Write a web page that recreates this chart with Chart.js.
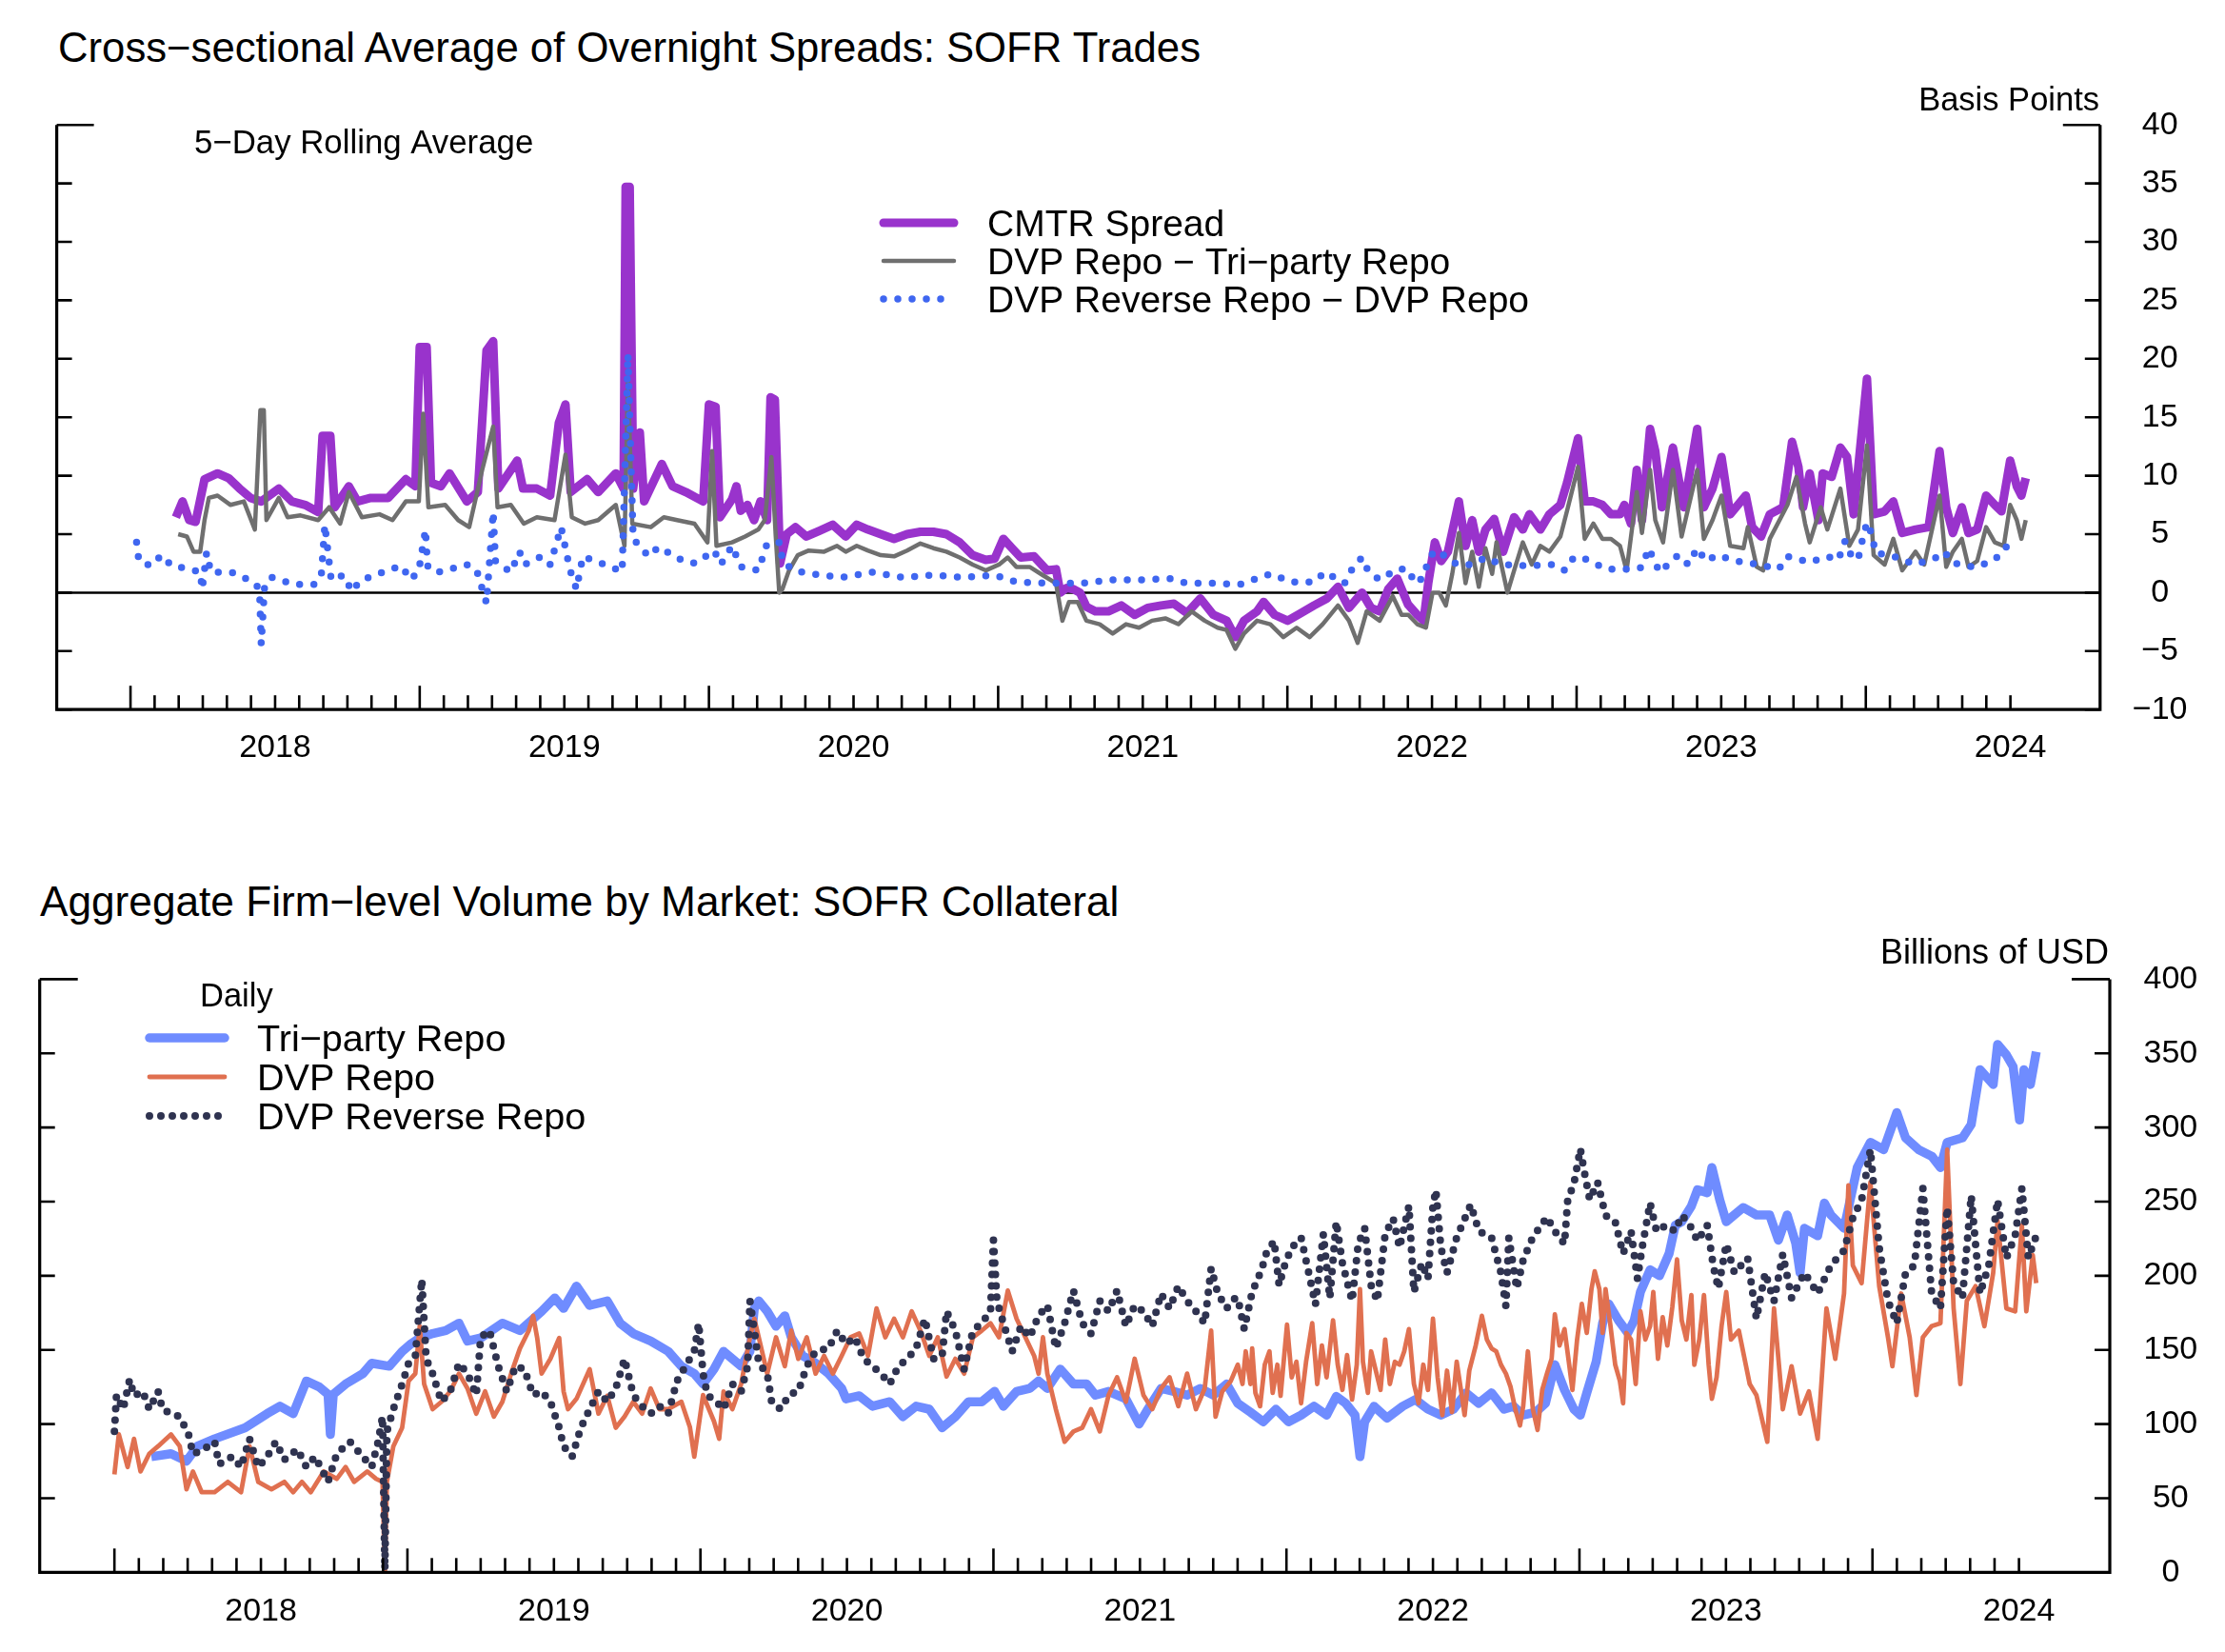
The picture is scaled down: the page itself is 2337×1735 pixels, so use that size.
<!DOCTYPE html>
<html>
<head>
<meta charset="utf-8">
<script src="https://cdn.jsdelivr.net/npm/chart.js"></script>
<style>
  body { margin: 0; background: #fff; width: 2337px; height: 1735px; position: relative; overflow: hidden; }
  .title { position: absolute; font-family: 'Liberation Sans', Arial, sans-serif; line-height: 44px; color: #000; white-space: nowrap; }
  canvas { position: absolute; left: 0; }
</style>
</head>
<body>
<div class="title" style="left:61px; top:28px; font-size:43.7px">Cross−sectional Average of Overnight Spreads: SOFR Trades</div>
<div class="title" style="left:42px; top:925px; font-size:44.2px">Aggregate Firm−level Volume by Market: SOFR Collateral</div>
<canvas id="spreadChart" width="2337" height="870" style="top:0; width:2337px; height:870px"></canvas>
<canvas id="volumeChart" width="2337" height="865" style="top:870px; width:2337px; height:865px"></canvas>
<script>
// axis labels
const yearLabels = ["2018", "2019", "2020", "2021", "2022", "2023", "2024"];
const spreadTicks = [-10, -5, 0, 5, 10, 15, 20, 25, 30, 35, 40];
const volumeTicks = [0, 50, 100, 150, 200, 250, 300, 350, 400];

// --- top panel: 5-day rolling averages, basis points (x = fractional year)
const cmtrYears = [2018.157,2018.180,2018.203,2018.225,2018.256,2018.301,2018.339,2018.377,2018.415,2018.452,2018.513,2018.558,2018.604,2018.649,2018.664,2018.691,2018.706,2018.755,2018.785,2018.831,2018.891,2018.952,2018.985,2019.000,2019.024,2019.039,2019.073,2019.103,2019.163,2019.201,2019.231,2019.254,2019.272,2019.337,2019.357,2019.405,2019.451,2019.481,2019.504,2019.522,2019.579,2019.617,2019.678,2019.705,2019.712,2019.726,2019.738,2019.761,2019.776,2019.837,2019.874,2019.920,2019.980,2020.000,2020.023,2020.038,
  2020.080,2020.095,2020.110,2020.133,2020.156,2020.178,2020.201,2020.213,2020.228,2020.246,2020.269,2020.299,2020.337,2020.383,2020.428,2020.473,2020.511,2020.549,2020.594,2020.640,2020.685,2020.731,2020.776,2020.821,2020.867,2020.912,2020.957,2020.988,2021.018,2021.048,2021.078,2021.124,2021.169,2021.200,2021.215,2021.237,2021.260,2021.283,2021.305,2021.336,2021.381,2021.426,2021.472,2021.517,2021.563,2021.608,2021.653,2021.699,2021.744,2021.790,2021.820,2021.850,2021.895,2021.918,2021.956,2022.001,2022.047,2022.092,2022.137,2022.175,2022.213,2022.258,2022.289,2022.319,2022.349,2022.380,2022.417,
  2022.449,2022.471,2022.487,2022.510,2022.532,2022.555,2022.593,2022.616,2022.639,2022.662,2022.685,2022.715,2022.746,2022.784,2022.814,2022.837,2022.875,2022.906,2022.944,2022.967,2023.005,2023.028,2023.058,2023.089,2023.119,2023.150,2023.165,2023.188,2023.208,2023.226,2023.254,2023.272,2023.295,2023.333,2023.371,2023.417,2023.440,2023.470,2023.501,2023.531,2023.585,2023.607,2023.638,2023.668,2023.714,2023.745,2023.767,2023.783,2023.806,2023.836,2023.851,2023.882,2023.912,2023.935,2023.958,2024.004,2024.027,2024.065,2024.095,2024.126,2024.172,2024.217,2024.255,2024.278,2024.301,2024.332,2024.355,2024.385,2024.416,2024.446,2024.469,2024.499,2024.522,2024.538,2024.553];
const cmtrSpread = [6.45,7.8,6.2,6.05,9.7,10.2,9.8,8.9,8.1,7.8,8.9,7.8,7.5,6.9,13.4,13.4,7.3,9.1,7.8,8.1,8.1,9.7,9.1,21.0,21.0,9.4,9.1,10.2,7.8,8.6,20.7,21.5,8.9,11.3,8.9,8.9,8.3,14.5,16.1,8.6,9.7,8.6,10.2,8.9,34.7,34.7,8.9,13.7,7.8,11.0,9.1,8.6,7.8,16.1,15.9,6.45,
  8.0,9.1,7.0,7.5,6.2,7.8,6.2,16.7,16.5,2.5,5.0,5.6,4.8,5.3,5.8,4.8,5.8,5.4,5.0,4.6,5.0,5.2,5.2,5.0,4.3,3.2,2.8,2.9,4.6,3.8,3.0,3.1,1.9,2.0,0.0,0.4,0.3,0.0,-1.2,-1.6,-1.6,-1.1,-1.9,-1.3,-1.1,-0.95,-1.75,-0.5,-1.9,-2.4,-3.8,-2.4,-1.6,-0.8,-1.9,-2.4,-1.75,-1.1,-0.5,0.5,-1.3,0.0,-1.3,-1.6,0.3,1.2,-1.0,
  -1.9,-2.4,0.8,4.3,2.7,3.5,7.8,4.0,6.2,3.5,5.4,6.3,3.5,6.45,5.4,6.7,5.4,6.7,7.5,9.4,13.2,7.8,7.8,7.5,6.7,6.7,7.5,5.9,10.5,6.2,14.0,12.1,7.3,12.4,7.3,14.0,7.3,8.9,11.6,6.7,8.3,5.6,4.8,6.7,7.3,12.9,10.75,7.3,10.2,6.2,10.2,9.9,12.4,11.6,6.7,18.3,6.7,6.95,7.8,5.1,5.4,5.6,12.1,7.3,5.1,7.3,5.1,5.4,8.3,7.5,6.95,11.3,9.1,8.3,9.8];

const dvpTriYears = [2018.165,2018.195,2018.218,2018.241,2018.256,2018.271,2018.301,2018.346,2018.392,2018.430,2018.449,2018.461,2018.470,2018.513,2018.543,2018.588,2018.649,2018.687,2018.725,2018.755,2018.800,2018.861,2018.906,2018.952,2018.997,2019.012,2019.030,2019.088,2019.133,2019.171,2019.216,2019.254,2019.269,2019.315,2019.360,2019.405,2019.466,2019.504,2019.526,2019.572,2019.617,2019.678,2019.708,2019.720,2019.735,2019.799,2019.844,2019.890,2019.950,2019.995,2020.011,2020.026,
  2020.080,2020.125,2020.171,2020.193,2020.216,2020.231,2020.243,2020.254,2020.277,2020.307,2020.345,2020.398,2020.443,2020.473,2020.511,2020.549,2020.594,2020.640,2020.685,2020.731,2020.776,2020.821,2020.867,2020.912,2020.957,2021.003,2021.033,2021.063,2021.109,2021.154,2021.200,2021.222,2021.245,2021.275,2021.305,2021.351,2021.396,2021.442,2021.487,2021.532,2021.578,2021.623,2021.669,2021.714,2021.759,2021.790,2021.820,2021.850,2021.895,2021.941,2021.986,2022.032,2022.077,2022.122,2022.175,2022.213,2022.243,2022.274,2022.319,2022.364,2022.395,
  2022.418,2022.449,2022.479,2022.502,2022.525,2022.548,2022.570,2022.593,2022.616,2022.639,2022.662,2022.685,2022.708,2022.723,2022.761,2022.784,2022.814,2022.845,2022.875,2022.906,2022.944,2022.967,2023.005,2023.028,2023.058,2023.089,2023.119,2023.150,2023.173,2023.208,2023.226,2023.254,2023.272,2023.299,2023.333,2023.363,2023.417,2023.440,2023.470,2023.501,2023.531,2023.577,2023.592,2023.623,2023.645,2023.668,2023.729,2023.760,2023.790,2023.806,2023.844,2023.867,2023.912,2023.943,2023.973,2024.004,2024.027,2024.065,2024.095,2024.126,2024.172,2024.202,2024.255,2024.278,2024.301,2024.332,2024.355,2024.385,2024.416,2024.446,2024.477,2024.499,2024.522,2024.538,2024.553];
const dvpTriSpread = [5.0,4.8,3.5,3.5,6.2,8.1,8.3,7.5,7.8,5.4,15.6,15.6,6.2,8.1,6.45,6.6,6.2,7.3,5.9,8.6,6.45,6.7,6.2,7.8,7.8,15.3,7.3,7.5,6.2,5.6,10.5,14.2,7.3,7.5,5.9,6.45,6.2,11.8,6.45,5.9,6.2,7.5,4.0,18.3,5.9,5.6,6.45,6.2,5.9,4.3,12.1,4.0,
  4.3,4.8,5.4,6.2,11.6,4.8,0,0.3,1.9,3.2,3.6,3.5,4.0,3.5,4.0,3.6,3.2,3.1,3.6,4.2,3.8,3.5,3.0,2.4,1.9,2.4,3.0,2.2,2.2,1.5,0.8,-2.4,-0.8,-0.8,-2.4,-2.7,-3.5,-2.7,-3.0,-2.4,-2.2,-2.7,-1.6,-2.4,-3.0,-3.2,-4.8,-3.5,-2.4,-2.7,-3.8,-3.0,-3.8,-2.7,-1.1,-2.4,-4.3,-1.6,-2.4,-0.3,-1.9,
  -1.9,-2.7,-3.0,0,0,-1.1,1.6,5.1,0.8,3.5,0.5,3.8,1.6,4.3,0,1.9,4.3,2.4,4.0,3.5,4.8,7.0,10.75,4.6,5.9,4.6,4.6,4.0,1.9,8.6,5.1,10.5,6.2,4.3,10.5,4.8,10.5,4.6,6.2,8.3,4.0,3.8,5.6,2.2,1.9,4.6,7.5,9.9,5.9,4.3,7.3,5.4,8.9,4.0,5.4,12.6,3.2,2.4,4.6,1.9,3.5,2.4,8.3,2.2,3.5,4.6,2.2,2.7,5.6,4.3,4.0,7.5,6.2,4.6,6.2];

const revDvpYears = [2018.021,2018.029,2018.071,2018.107,2018.142,2018.207,2018.241,2018.248,2018.263,2018.278,2018.354,2018.425,2018.446,2018.452,2018.464,2018.490,2018.566,2018.637,2018.660,2018.672,2018.694,2018.737,2018.766,2018.793,2018.868,2018.936,2018.970,2018.997,2019.020,2019.027,2019.057,2019.163,2019.197,2019.231,2019.254,2019.262,2019.315,2019.345,2019.363,2019.421,2019.451,2019.489,2019.519,2019.542,2019.564,2019.640,2019.700,2019.720,2019.738,2019.791,2019.826,2019.912,2019.953,2020.018,2020.041,
  2020.080,2020.110,2020.171,2020.201,2020.246,2020.254,2020.292,2020.352,2020.458,2020.564,2020.670,2020.776,2020.882,2020.988,2021.063,2021.169,2021.290,2021.396,2021.502,2021.593,2021.653,2021.744,2021.835,2021.941,2022.017,2022.092,2022.130,2022.198,2022.228,2022.258,2022.281,2022.319,2022.380,
  2022.418,2022.441,2022.471,2022.487,2022.510,2022.548,2022.586,2022.639,2022.685,2022.738,2022.822,2022.921,2022.959,2022.990,2023.020,2023.104,2023.188,2023.226,2023.249,2023.287,2023.351,2023.386,2023.417,2023.447,2023.486,2023.554,2023.630,2023.699,2023.729,2023.806,2023.867,2023.905,2023.928,2023.943,2023.973,2023.989,2024.004,2024.019,2024.034,2024.095,2024.172,2024.240,2024.271,2024.301,2024.377,2024.446,2024.484,2024.522];
const revDvpSpread = [4.3,2.7,2.3,3.2,2.3,2.0,1.75,0.3,3.4,1.75,1.7,0.9,0.3,-4.4,0.7,1.3,0.7,0.7,1.6,5.8,1.1,1.5,0.1,1.0,1.7,2.3,1.1,1.9,5.4,2.3,1.7,2.4,1.9,-0.9,6.9,2.7,1.75,3.5,2.4,3.1,2.4,5.6,2.0,0.3,3.1,2.4,1.8,20.4,4.6,3.1,3.9,2.7,2.5,3.6,2.4,
  4.0,2.2,1.9,4.2,4.3,2.7,1.9,1.6,1.3,1.75,1.3,1.5,1.3,1.5,0.9,0.8,0.8,1.1,1.1,1.2,0.8,0.8,0.7,1.6,0.9,0.9,1.75,0.8,2.2,3.0,1.75,1.1,2.0,
  2.0,0.8,1.3,2.8,3.6,3.1,2.4,2.4,3.0,2.4,2.3,2.4,1.9,3.0,3.0,2.0,2.0,2.15,3.8,1.75,3.2,2.4,3.8,2.7,3.2,2.7,2.4,2.0,3.1,2.6,3.1,2.8,4.4,3.4,2.8,4.6,6.0,5.1,3.4,3.1,2.4,2.96,3.5,2.55,2.15,2.8,3.9,3.9];

// --- bottom panel: daily volumes, billions of USD
const triYears = [2018.126,2018.193,2018.246,2018.283,2018.342,2018.446,2018.521,2018.565,2018.610,2018.655,2018.699,2018.729,2018.737,2018.747,2018.789,2018.848,2018.878,2018.938,2018.982,2019.012,2019.042,2019.086,2019.131,2019.176,2019.205,2019.250,2019.324,2019.384,2019.458,2019.503,2019.533,2019.577,2019.622,2019.682,2019.726,2019.771,2019.830,2019.890,2019.935,2019.979,2020.009,2020.046,
  2020.079,2020.109,2020.139,2020.169,2020.184,2020.199,2020.228,2020.258,2020.288,2020.310,2020.349,2020.393,2020.437,2020.482,2020.497,2020.542,2020.587,2020.646,2020.691,2020.736,2020.781,2020.825,2020.870,2020.915,2020.960,2021.004,2021.034,2021.079,2021.124,2021.154,2021.184,2021.228,2021.273,2021.318,2021.348,2021.393,2021.452,2021.497,2021.527,2021.572,2021.616,2021.661,2021.706,2021.751,2021.796,
  2021.834,2021.877,2021.921,2021.964,2022.007,2022.050,2022.094,2022.137,2022.170,2022.202,2022.234,2022.251,2022.267,2022.299,2022.343,2022.397,2022.440,2022.483,2022.527,2022.570,2022.613,2022.656,2022.700,2022.743,2022.775,2022.808,2022.851,2022.884,2022.916,2022.949,2022.981,2023.003,2023.025,2023.057,2023.079,2023.100,2023.133,2023.165,2023.187,2023.208,2023.241,2023.273,2023.306,2023.327,2023.349,2023.382,2023.403,2023.436,2023.452,2023.479,2023.501,
  2023.559,2023.604,2023.649,2023.679,2023.709,2023.738,2023.753,2023.768,2023.813,2023.836,2023.858,2023.903,2023.948,2023.993,2024.038,2024.083,2024.113,2024.158,2024.203,2024.232,2024.255,2024.307,2024.337,2024.367,2024.412,2024.427,2024.457,2024.480,2024.502,2024.517,2024.539,2024.559];
const triVolume = [78,80,75,85,90,97.5,107,112,107,129,125,120,93,120,127,134,141,139,149,154,158,161,163,168,156,158,168,163,176,185,178,193,180,183,168,161,156,149,139,134,127,137,
  149,144,139,149,178,183,176,166,173,158.5,146,141,134,124,117,119,112,115,105,112,110,97.5,105,115,115,122,112,122,124,129,124,137,127,127,119.5,122,117,100,110,124,122,119.5,124,119.5,127,
  114,108,101.5,110,101.5,106,112,106,118.6,114,106,78,101.5,112,104,112,116.5,110,106,110,121,114,121,110,112,106,108,114,140,123,110,106,121,142,168,181,170,161.5,170,189,204,200,215,234,236.5,247,258,256,273,251,236.5,
  246,241,241,224,241,222,202,232,227,249,241,232,273,290,285,310,293,285,280.5,273,290,293,302,339,329,356,349,341,305,339,329,351];

const dvpYears = [2018.000,2018.015,2018.045,2018.067,2018.089,2018.119,2018.149,2018.193,2018.223,2018.246,2018.268,2018.298,2018.342,2018.387,2018.432,2018.461,2018.491,2018.536,2018.580,2018.610,2018.640,2018.670,2018.714,2018.759,2018.789,2018.818,2018.863,2018.893,2018.915,2018.923,2018.930,2018.952,2018.982,2019.004,2019.027,2019.042,2019.057,2019.086,2019.116,2019.146,2019.176,2019.205,2019.235,2019.265,2019.295,2019.324,2019.354,2019.384,2019.414,2019.429,2019.443,2019.458,2019.488,2019.518,2019.533,2019.548,2019.577,2019.622,2019.652,2019.682,2019.711,2019.741,2019.771,2019.801,2019.830,2019.860,2019.890,2019.935,2019.964,2019.979,2020.009,2020.046,
  2020.064,2020.079,2020.109,2020.139,2020.169,2020.184,2020.199,2020.228,2020.258,2020.288,2020.310,2020.334,2020.363,2020.393,2020.422,2020.452,2020.482,2020.512,2020.542,2020.572,2020.601,2020.631,2020.661,2020.691,2020.721,2020.751,2020.781,2020.810,2020.840,2020.870,2020.900,2020.930,2020.960,2020.990,2021.019,2021.049,2021.079,2021.109,2021.139,2021.154,2021.169,2021.184,2021.213,2021.243,2021.273,2021.303,2021.333,2021.363,2021.393,2021.422,2021.452,2021.482,2021.512,2021.542,2021.572,2021.601,2021.631,2021.661,2021.691,2021.721,2021.743,2021.758,2021.781,2021.810,
  2021.834,2021.850,2021.861,2021.877,2021.883,2021.894,2021.910,2021.926,2021.942,2021.953,2021.969,2021.980,
  2022.002,2022.018,2022.034,2022.050,2022.067,2022.088,2022.105,2022.121,2022.137,2022.159,2022.175,2022.191,2022.207,2022.224,2022.240,2022.251,2022.261,2022.278,2022.289,2022.305,2022.321,2022.337,2022.353,2022.370,2022.386,2022.402,2022.418,2022.435,2022.451,2022.467,2022.483,2022.500,2022.516,2022.532,2022.548,2022.565,2022.581,2022.597,2022.608,2022.624,2022.646,2022.667,2022.684,2022.700,2022.716,2022.732,2022.749,2022.765,2022.781,2022.797,2022.808,2022.824,2022.841,2022.857,2022.873,2022.889,2022.905,2022.916,2022.932,2022.949,2022.965,2022.976,2022.992,
  2023.008,2023.025,2023.041,2023.052,2023.068,2023.079,2023.089,2023.106,2023.122,2023.138,2023.149,2023.160,2023.176,2023.192,2023.208,2023.225,2023.241,2023.252,2023.268,2023.284,2023.300,2023.317,2023.333,2023.349,2023.365,2023.382,2023.392,2023.409,2023.425,2023.441,2023.452,2023.468,2023.485,2023.501,2023.517,
  2023.544,2023.581,2023.604,2023.641,2023.664,2023.694,2023.724,2023.753,2023.783,2023.813,2023.843,2023.873,2023.903,2023.918,2023.933,2023.963,2023.993,2024.023,2024.053,2024.068,2024.098,2024.127,2024.150,2024.172,2024.202,2024.232,2024.255,2024.277,2024.300,2024.322,2024.352,2024.382,2024.412,2024.427,2024.457,2024.487,2024.510,2024.525,2024.547,2024.559];
const dvpVolume = [66,93,71,90,68,80,85,93,85,56,68,54,54,61,54,85,61,56,61,54,61,54,68,63,71,61,68,63,61,0,61,85,97.5,129,134,166,127,110,115,122,134,124,107,122,105,115,134,151,163,173,158,134,144,158,122,110,117,137,107,119,97.5,105,115,107,124,110,110,115,98,78,119.5,102,
  90,122,110,127,158.5,171,158.5,134,158.5,139,163,144,158.5,134,146,134,146,158.5,161,146,178,158.5,171,158.5,176,163,146,158.5,132,144,134,158.5,163,168,158.5,190,171,158.5,146,134,158.5,134,110,88,95,97.5,110,95,119.5,131.5,115,144,119.5,110,124,131.5,112,134,110,124,163,105,122,129,
  140,127,149,127,151,121,112,140,149,121,140,119,
  167,131.5,142,114,142,168,127,153,131.5,170,140,123,146.5,116.5,140,191,142,121,149,136,123,157,127,142,140,149,164,127,114,140,123,171,131.5,106,136,108,142,121,106,136,153,173,157,151,149,140,134,125,110,99,112,149,110,96,123,134,144,174,153,164,140,123,157,
  181,161.5,191,203,191,161.5,191,166,140,129,114,161.5,157,127,176,157,166,189,144,172,153,179,211,170,157,187,140,157,187,140,117,131.5,166,189,157,
  163,127,119.5,88,178,110,139,107,122,90,178,144,188,261,207,195,263,193,158.5,139,188,158.5,119.5,158.5,166,168,285,178,127,183,193,166,202,237,178,176,234,176,214,195];

const revYears = [2018.000,2018.007,2018.030,2018.052,2018.067,2018.097,2018.119,2018.149,2018.164,2018.193,2018.223,2018.253,2018.268,2018.298,2018.342,2018.357,2018.402,2018.432,2018.461,2018.491,2018.521,2018.551,2018.580,2018.625,2018.655,2018.685,2018.729,2018.759,2018.804,2018.848,2018.878,2018.900,2018.915,2018.923,2018.930,2018.952,2018.982,2019.004,2019.027,2019.049,2019.064,2019.086,2019.116,2019.146,2019.176,2019.205,2019.235,2019.250,2019.280,2019.310,2019.339,2019.369,2019.399,2019.429,2019.458,2019.488,2019.518,2019.533,2019.562,2019.592,2019.622,2019.652,2019.682,2019.711,2019.741,2019.771,2019.801,2019.830,2019.860,2019.890,2019.920,2019.949,2019.979,2019.994,2020.009,2020.024,2020.054,
  2020.079,2020.109,2020.139,2020.161,2020.169,2020.184,2020.199,2020.228,2020.243,2020.273,2020.304,2020.334,2020.363,2020.393,2020.437,2020.467,2020.497,2020.527,2020.557,2020.587,2020.616,2020.646,2020.676,2020.706,2020.736,2020.766,2020.796,2020.825,2020.840,2020.870,2020.900,2020.930,2020.960,2020.990,2021.000,2021.012,2021.034,2021.064,2021.094,2021.124,2021.154,2021.184,2021.213,2021.243,2021.273,2021.303,2021.333,2021.363,2021.393,2021.422,2021.452,2021.482,2021.512,2021.542,2021.572,2021.601,2021.631,2021.661,2021.691,2021.721,2021.743,2021.766,2021.796,2021.825,
  2021.834,2021.856,2021.883,2021.915,2021.931,2021.958,2021.975,2021.996,
  2022.018,2022.050,2022.083,2022.099,2022.126,2022.148,2022.170,2022.191,2022.224,2022.245,2022.267,2022.289,2022.310,2022.337,2022.364,2022.386,2022.418,2022.435,2022.462,2022.483,2022.500,2022.510,2022.527,2022.548,2022.581,2022.629,2022.657,2022.700,2022.732,2022.749,2022.759,2022.786,2022.808,2022.840,2022.889,2022.916,2022.949,2022.960,2022.981,
  2023.003,2023.014,2023.035,2023.062,2023.089,2023.122,2023.149,2023.176,2023.198,2023.214,2023.241,2023.263,2023.295,2023.327,2023.349,2023.371,2023.403,2023.436,2023.457,2023.474,2023.501,
  2023.529,2023.574,2023.604,2023.634,2023.664,2023.694,2023.724,2023.768,2023.813,2023.858,2023.903,2023.933,2023.963,2023.993,2024.023,2024.053,2024.083,2024.113,2024.143,2024.172,2024.202,2024.232,2024.255,2024.277,2024.307,2024.337,2024.367,2024.397,2024.427,2024.457,2024.487,2024.510,2024.532,2024.559];
const revVolume = [95,119.5,110,130,119,122,110,122,110,107,105,93,80,82,88,73,78,71,90,71,78,88,76,83,71,78,61,80,88,78,71,88,105,2,95,110,127,141,146,197.5,144,134,115,122,141,134,119.5,158.5,163,139,122,139,137,119.5,122,115,97.5,85,78,97.5,110,122,115,124,144,119.5,112,107,112,107,129,139,149,168,134,119.5,115,
  110,127,122,139,183,163,141,134,115,110,120,122,139,149,151,163,154,158.5,144,139,134,127,139,144,151,171,144,146,176,163,137,163,168,176,224,183,168,149,166,158.5,173,180,151,168,190,168,161,183,176,190,166,180,176,166,188,178,193,183,176,168,205,188,178,185,
  185,164,189,204,215,223.5,193.5,208.5,
  219,225.7,195.7,180.7,228,185,236.4,208.5,183,221.4,232,193.5,183,228,238.5,219,247,189,208.5,198,247,257.8,219,202,225.7,248,230,225.7,202,179.6,225.7,191.4,210.7,225.7,239.6,230,221.4,251.4,262,
  285.6,272.8,251.4,263,240.7,236.4,215,230,198,219,249,230,234,230,240.7,236.4,223.5,234,206.4,191.4,221.4,
  202,212,171,202,183,214.5,185,202,188,207,217,239,251,285,219,183,168,202,207,259,188,178,246,195,185,254,188,207,251,212,227,259,212,227];

const FONT = "'Liberation Sans', Arial, sans-serif";

// monthly tick marks, Jan 2018 .. Jul 2024
const monthTicks = [];
for (let k = 0; k <= 78; k++) monthTicks.push(2018 + k / 12);

function pts(xs, ys) {
  return xs.map((x, i) => ({ x: x, y: ys[i] }));
}

function minus(v) {
  return v < 0 ? "\u2212" + Math.abs(v) : String(v);
}

// box, inward ticks and zero line
const framePlugin = {
  id: "frame",
  beforeDatasetsDraw(chart, args, opts) {
    if (!opts.zeroLine) return;
    const { ctx, chartArea: a, scales: { y } } = chart;
    const yy = y.getPixelForValue(0);
    ctx.save();
    ctx.strokeStyle = "#000";
    ctx.lineWidth = 2.5;
    ctx.beginPath();
    ctx.moveTo(a.left, yy);
    ctx.lineTo(a.right, yy);
    ctx.stroke();
    ctx.restore();
  },
  afterDatasetsDraw(chart, args, opts) {
    const { ctx, chartArea: a, scales: { x, y } } = chart;
    ctx.save();
    ctx.strokeStyle = "#000";
    ctx.lineWidth = 3.2;
    ctx.beginPath();
    ctx.moveTo(a.left, a.top);
    ctx.lineTo(a.left, a.bottom);
    ctx.lineTo(a.right, a.bottom);
    ctx.lineTo(a.right, a.top);
    ctx.stroke();

    ctx.lineWidth = 2.6;
    y.ticks.forEach(t => {
      const py = y.getPixelForValue(t.value);
      const len = t.value === y.max ? opts.topTick : opts.yTick;
      ctx.beginPath();
      ctx.moveTo(a.left, py);
      ctx.lineTo(a.left + len, py);
      ctx.moveTo(a.right, py);
      ctx.lineTo(a.right - len, py);
      ctx.stroke();
    });
    x.ticks.forEach((t, i) => {
      const px = x.getPixelForValue(t.value);
      const len = i % 12 === 0 ? opts.majorTick : opts.minorTick;
      ctx.beginPath();
      ctx.moveTo(px, a.bottom);
      ctx.lineTo(px, a.bottom - len);
      ctx.stroke();
    });
    ctx.restore();
  }
};

// notes and legend drawn from the datasets
const notesPlugin = {
  id: "notes",
  afterDraw(chart, args, opts) {
    const ctx = chart.ctx;
    ctx.save();
    ctx.fillStyle = "#000";
    ctx.textBaseline = "alphabetic";
    opts.texts.forEach(t => {
      ctx.font = t.size + "px " + FONT;
      ctx.textAlign = t.align;
      ctx.fillText(t.text, t.x, t.y);
    });
    const L = opts.legend;
    chart.data.datasets.forEach((ds, i) => {
      const base = L.y0 + i * L.dy;
      const ly = base - L.lift;
      ctx.save();
      ctx.strokeStyle = ds.borderColor;
      ctx.lineWidth = ds.borderWidth;
      ctx.lineCap = "round";
      ctx.setLineDash(ds.borderDash || []);
      ctx.beginPath();
      ctx.moveTo(L.x1, ly);
      ctx.lineTo(L.x2, ly);
      ctx.stroke();
      ctx.restore();
      ctx.font = L.size + "px " + FONT;
      ctx.textAlign = "left";
      ctx.fillText(ds.label, L.tx, base);
    });
    ctx.restore();
  }
};

function xAxis(height, pad) {
  return {
    type: "linear",
    min: 2017.745,
    max: 2024.81,
    afterBuildTicks: s => { s.ticks = monthTicks.map(v => ({ value: v })); },
    afterFit: s => { s.height = height; },
    grid: { display: false, drawTicks: false },
    border: { display: false },
    ticks: {
      autoSkip: false, maxRotation: 0, minRotation: 0, padding: pad,
      color: "#000", font: { family: FONT, size: 34 },
      callback: (v, i) => (i % 12 === 6 ? yearLabels[Math.floor(i / 12)] : "")
    }
  };
}

function yAxis(min, max, tickList, width, pad) {
  return {
    type: "linear",
    position: "right",
    min: min,
    max: max,
    afterBuildTicks: s => { s.ticks = tickList.map(v => ({ value: v })); },
    afterFit: s => { s.width = width; },
    grid: { display: false, drawTicks: false },
    border: { display: false },
    ticks: {
      padding: pad, crossAlign: "center", color: "#000",
      font: { family: FONT, size: 34 },
      callback: v => minus(v)
    }
  };
}

const lineBase = { pointRadius: 0, tension: 0, borderJoinStyle: "round", fill: false };

new Chart(document.getElementById("spreadChart"), {
  type: "line",
  data: {
    datasets: [
      Object.assign({ label: "CMTR Spread", data: pts(cmtrYears, cmtrSpread), borderColor: "#9933CC", borderWidth: 9, order: 3 }, lineBase),
      Object.assign({ label: "DVP Repo \u2212 Tri\u2212party Repo", data: pts(dvpTriYears, dvpTriSpread), borderColor: "#6F6F6F", borderWidth: 4.5, order: 2 }, lineBase),
      Object.assign({ label: "DVP Reverse Repo \u2212 DVP Repo", data: pts(revDvpYears, revDvpSpread), borderColor: "#3F66F0", borderWidth: 7.5, borderDash: [0, 15], borderCapStyle: "round", order: 1 }, lineBase)
    ]
  },
  options: {
    responsive: false,
    animation: false,
    events: [],
    devicePixelRatio: 1,
    layout: { padding: { left: 59.6, top: 131.2, right: 0, bottom: 0 } },
    scales: {
      x: xAxis(124.8, 20),
      y: yAxis(-10, 40, spreadTicks, 131.2, 34)
    },
    plugins: {
      legend: { display: false },
      tooltip: { enabled: false },
      frame: { zeroLine: true, yTick: 16, topTick: 39, majorTick: 25, minorTick: 15 },
      notes: {
        texts: [
          { text: "5\u2212Day Rolling Average", x: 204, y: 161, size: 34.8, align: "left" },
          { text: "Basis Points", x: 2205, y: 116, size: 34.5, align: "right" }
        ],
        legend: { x1: 928, x2: 1002, tx: 1037, y0: 248, dy: 40, lift: 14, size: 39 }
      }
    }
  },
  plugins: [framePlugin, notesPlugin]
});

new Chart(document.getElementById("volumeChart"), {
  type: "line",
  data: {
    datasets: [
      Object.assign({ label: "Tri\u2212party Repo", data: pts(triYears, triVolume), borderColor: "#6F8CFF", borderWidth: 9.5, order: 3 }, lineBase),
      Object.assign({ label: "DVP Repo", data: pts(dvpYears, dvpVolume), borderColor: "#E07050", borderWidth: 4.8, order: 2 }, lineBase),
      Object.assign({ label: "DVP Reverse Repo", data: pts(revYears, revVolume), borderColor: "#2F3350", borderWidth: 8, borderDash: [0, 12], borderCapStyle: "round", order: 1 }, lineBase)
    ]
  },
  options: {
    responsive: false,
    animation: false,
    events: [],
    devicePixelRatio: 1,
    layout: { padding: { left: 41.7, top: 158.4, right: 0, bottom: 0 } },
    scales: {
      x: xAxis(83.7, 21),
      y: yAxis(0, 400, volumeTicks, 121, 35.5)
    },
    plugins: {
      legend: { display: false },
      tooltip: { enabled: false },
      frame: { zeroLine: false, yTick: 16, topTick: 40, majorTick: 25, minorTick: 15 },
      notes: {
        texts: [
          { text: "Daily", x: 210, y: 187, size: 34.5, align: "left" },
          { text: "Billions of USD", x: 2215, y: 142, size: 36, align: "right" }
        ],
        legend: { x1: 157, x2: 236, tx: 270, y0: 234, dy: 41, lift: 14, size: 39.6 }
      }
    }
  },
  plugins: [framePlugin, notesPlugin]
});
</script>
</body>
</html>
